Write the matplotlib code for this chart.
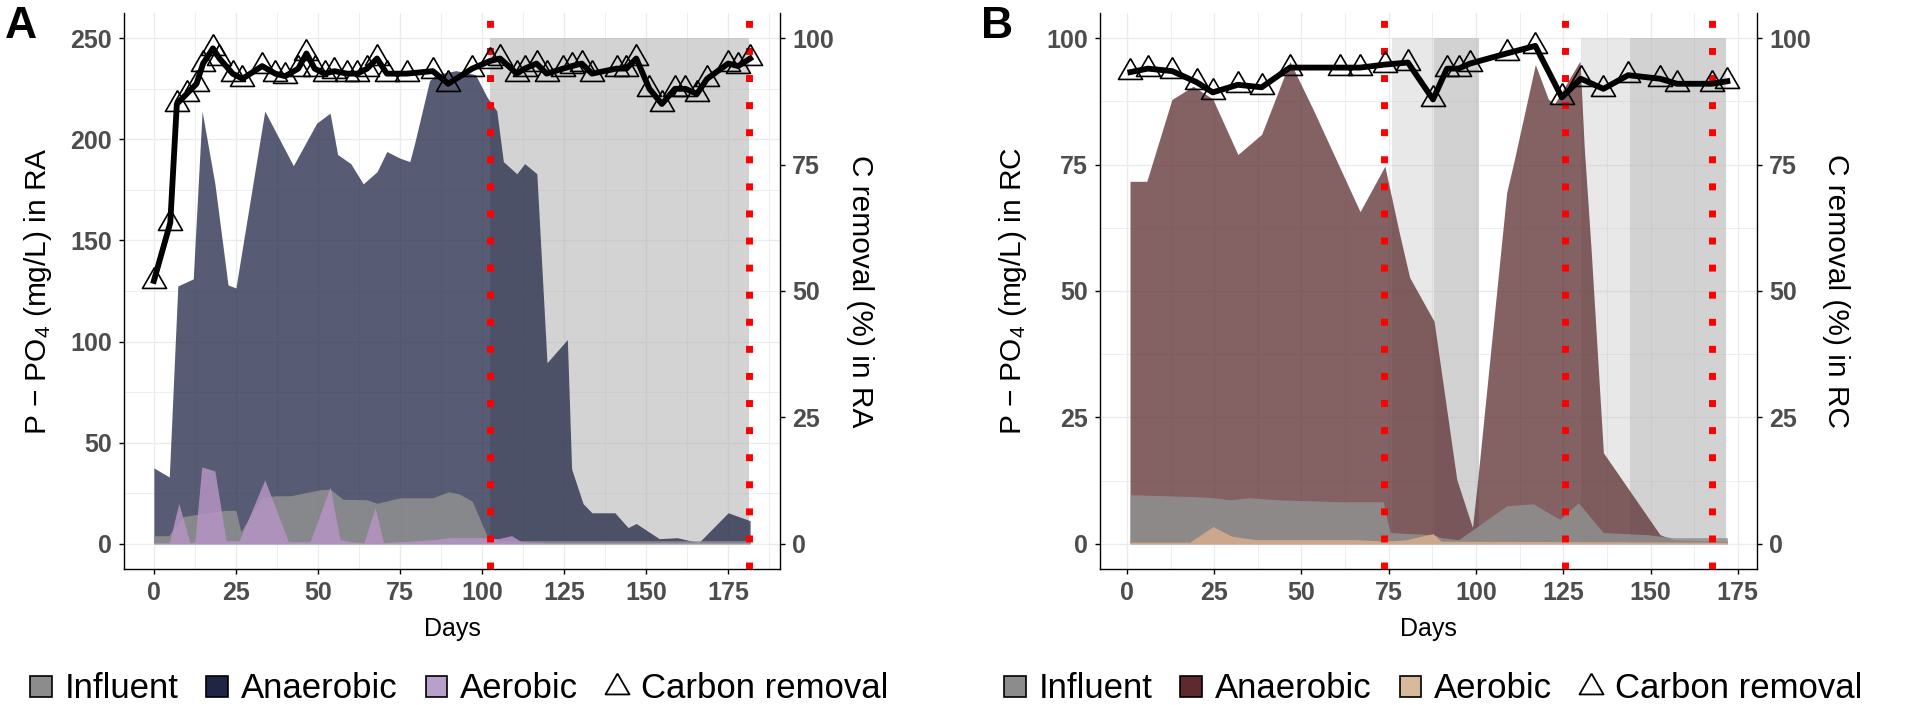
import matplotlib
matplotlib.use("Agg")
import matplotlib.pyplot as plt
from matplotlib.patches import Patch
from matplotlib.lines import Line2D
from matplotlib.ticker import MultipleLocator

plt.rcParams["font.family"] = ["Liberation Sans", "DejaVu Sans"]
plt.rcParams["mathtext.fontset"] = "custom"
plt.rcParams["mathtext.rm"] = "Liberation Sans"
plt.rcParams["mathtext.it"] = "Liberation Sans:italic"

# ---------------- panel A : reactor RA ----------------
a_anaer_day = [0, 4.7, 7.3, 12, 14.7, 18.6, 22.6, 25, 33.8, 42.5, 49.6, 53.7, 56, 60,
               63.8, 68, 71, 75, 78, 79.6, 84, 86, 92, 98, 101.5, 104.5, 106.5, 110.6,
               113, 116.7, 119.8, 126, 127.3, 130.8, 133.5, 140.5, 144.5, 147, 154,
               159.5, 166, 175, 181.7]
a_anaer = [37.5, 33, 127.5, 131, 214, 178, 128, 126.5, 214, 187, 208, 213, 192.5, 188,
           178, 184, 194, 190.7, 189, 199, 229, 232, 234, 232, 221, 214, 189, 183,
           188, 183, 89.5, 101, 37, 19.8, 15.3, 15.3, 8, 10, 2.5,
           3, 0.5, 15.3, 11.4]

a_infl_day = [0, 4.5, 9, 21.5, 25, 26.5, 33, 37, 41.5, 50.6, 53.7, 57.6, 65, 68, 75, 85,
              89.7, 93, 97, 101.5, 104, 181.7]
a_infl = [4, 4, 13.5, 16.5, 16.5, 6, 23, 23.7, 23.7, 26.7, 27, 22, 21.7, 20, 22.7, 22.7,
          25.7, 24.7, 21, 4, 1.5, 1.5]

a_aer_day = [0, 4.7, 7.6, 11, 12.5, 14.6, 18.6, 22, 26, 33.8, 41, 47.6, 53.7, 56.7, 60,
             64, 67.4, 70, 85, 90, 100, 105, 109, 112, 120, 181.7]
a_aer = [0.5, 0.5, 20, 0.5, 1, 38, 36, 1.5, 1.5, 31.6, 1, 1, 28, 2, 1,
         0.5, 17.8, 0.5, 2, 3, 3, 2.5, 4, 1, 0.5, 0.5]

a_c_day = [0, 5, 7, 10, 13, 15, 18, 20, 24, 27, 33, 37, 40, 44, 46.5, 49, 52, 55, 59,
           62, 65, 68, 71, 77, 85, 89.7, 97, 102.4, 105.5, 110.6, 113, 116.6, 119.7,
           124.7, 127.4, 130.4, 133.5, 141, 144, 147, 151, 154.8, 158.8, 162, 165.5,
           168.6, 175, 178, 181.7]
a_c = [52, 63.5, 87, 89, 91, 95, 98, 96, 93, 92, 94.5, 93, 92.5, 94, 97, 94, 93, 93.5, 93,
       93, 94, 96, 93, 93, 93.5, 91, 94, 95.5, 96, 93, 94, 95, 93,
       94, 94.5, 95, 93, 94, 94, 96, 90, 87, 90, 90, 89,
       92, 95, 94.5, 96]

a_spans = [(102.5, 181.4)]
a_vlines = [102.4, 181.4]

# ---------------- panel B : reactor RC ----------------
b_anaer_day = [0.9, 5.7, 12.9, 19, 24.6, 31.8, 38.6, 46.7, 53.3, 66.8, 73.9, 78, 81, 88,
               94.5, 99, 100.5, 108.8, 111, 117, 120.7, 122.5, 129.8, 131, 133, 136.5,
               152.7, 156.5, 172]
b_anaer = [71.7, 71.7, 87.9, 90.5, 88, 77, 81, 95.4, 86, 65.7, 74.7, 61.6, 52.7, 44,
           12.7, 3.2, 12.7, 69.5, 76, 94.8, 88, 87, 95.5, 78.6, 58, 18,
           1.8, 0.8, 0.5]

b_infl_day = [0.9, 20, 24.7, 29.5, 35, 43, 61, 73.4, 75.4, 87.7, 90, 95, 108.8, 116.4,
              124, 129.3, 136.5, 149, 156.5, 172]
b_infl = [9.7, 9.3, 9.1, 8.7, 9.1, 8.7, 8.3, 8.3, 2.2, 1.8, 1.2, 0.8, 7.5, 7.9,
          4.8, 8.1, 2.2, 1.8, 1.2, 1.2]

b_aer_day = [0.9, 18, 24.7, 30, 37, 66, 74, 80, 87.7, 90, 172]
b_aer = [0.3, 0.3, 3.4, 1.5, 0.8, 0.8, 0.5, 0.8, 2, 0.5, 0.3]

b_c_day = [1, 6, 13, 20, 24.6, 31.8, 38.6, 46.7, 61, 66.8, 74, 80.5, 87.7, 91.7, 95,
           98.3, 108.8, 117, 124.6, 130, 136.5, 143.6, 152.7, 157.6, 167.6, 172]
b_c = [93.3, 94, 93.5, 91.3, 89.3, 90.8, 90.3, 94.2, 94.2, 94.2, 94.8, 95.2, 87.9, 94, 94,
       95, 97, 98.5, 88.3, 92, 90, 92.7, 92, 91, 91, 91.5]

b_spans_light = [(76, 101), (130, 171.6)]
b_spans_dark = [(88, 101), (144, 171.6)]
b_vlines = [73.6, 125.5, 167.6]

tick_days = [0, 25, 50, 75, 100, 125, 150, 175]

TRI = [(0, 1), (-0.866, -0.5), (0.866, -0.5), (0, 1)]
TICK_COL = "#4d4d4d"


def style_axes(ax, ax2, xlim, ylim, ylim2, ymajor):
    ax.set_xlim(*xlim)
    ax.set_ylim(*ylim)
    ax2.set_ylim(*ylim2)
    ax.set_xticks(tick_days)
    ax.xaxis.set_minor_locator(MultipleLocator(12.5))
    ax.yaxis.set_major_locator(MultipleLocator(ymajor))
    ax.yaxis.set_minor_locator(MultipleLocator(ymajor / 2))
    ax2.set_yticks([0, 25, 50, 75, 100])
    ax.set_axisbelow(True)
    ax.grid(True, which="major", color="#ebebeb", lw=1.0)
    ax.grid(True, which="minor", color="#ebebeb", lw=0.6)
    for a in (ax, ax2):
        a.tick_params(which="major", length=3.6, width=1.0, color="black",
                      labelsize=18, labelcolor=TICK_COL, pad=5)
        a.tick_params(which="minor", length=0)
        for lab in a.get_xticklabels() + a.get_yticklabels():
            lab.set_fontweight("bold")
        for s in a.spines.values():
            s.set_linewidth(1.0)
            s.set_color("black")
    ax.spines["top"].set_visible(False)
    ax.spines["right"].set_visible(False)
    for s in ("top", "left", "bottom"):
        ax2.spines[s].set_visible(False)


def carbon(ax2, days, vals):
    ax2.plot(days, vals, ls="none", marker=TRI, ms=20, mfc="none", mec="black",
             mew=1.2, zorder=3)
    ax2.plot(days, vals, color="black", lw=4.2, solid_joinstyle="round", zorder=4)


def red_lines(ax, xs):
    for x in xs:
        ax.axvline(x, color="#ff0000", lw=5, ls=(0, (1, 2.9)),
                   dash_capstyle="butt", zorder=5)


fig = plt.figure(figsize=(19.05, 7.05), dpi=100)
W, H = 1905, 705

# ---- A ----
axA = fig.add_axes([124 / W, 1 - 569 / H, 656 / W, 556 / H])
axA2 = axA.twinx()
for x0, x1 in a_spans:
    axA.fill_between([x0, x1], 0, 250, color="#b0b0b0", alpha=0.55, lw=0, zorder=1)
axA.fill_between(a_anaer_day, 0, a_anaer, color="#1f2545", alpha=0.75, lw=0, zorder=2)
axA.fill_between(a_infl_day, 0, a_infl, color="#909090", alpha=0.85, lw=0, zorder=2)
axA.fill_between(a_aer_day, 0, a_aer, color="#b694c4", alpha=0.85, lw=0, zorder=2)
red_lines(axA, a_vlines)
carbon(axA2, a_c_day, a_c)
style_axes(axA, axA2, (-9.1, 190.8), (-12.5, 262.5), (-5, 105), 50)

# ---- B ----
axB = fig.add_axes([1100 / W, 1 - 569 / H, 657 / W, 556 / H])
axB2 = axB.twinx()
for x0, x1 in b_spans_light:
    axB.fill_between([x0, x1], 0, 100, color="#b3b3b3", alpha=0.3, lw=0, zorder=1)
for x0, x1 in b_spans_dark:
    axB.fill_between([x0, x1], 0, 100, color="#b3b3b3", alpha=0.4, lw=0, zorder=1)
axB.fill_between(b_anaer_day, 0, b_anaer, color="#5b2d30", alpha=0.75, lw=0, zorder=2)
axB.fill_between(b_infl_day, 0, b_infl, color="#909090", alpha=0.85, lw=0, zorder=2)
axB.fill_between(b_aer_day, 0, b_aer, color="#d8ad8c", alpha=0.85, lw=0, zorder=2)
red_lines(axB, b_vlines)
carbon(axB2, b_c_day, b_c)
style_axes(axB, axB2, (-7.7, 180.5), (-5, 105), (-5, 105), 25)

# ---- titles / labels ----
lab_kw = dict(ha="center", va="center", fontsize=21.5, color="black")
fig.text(38 / W, 1 - 291 / H, "P − PO$_4$ (mg/L) in RA", rotation=90, **lab_kw)
fig.text(860 / W, 1 - 291 / H, "C removal (%) in RA", rotation=270, **lab_kw)
fig.text(1013 / W, 1 - 291 / H, "P − PO$_4$ (mg/L) in RC", rotation=90, **lab_kw)
fig.text(1836 / W, 1 - 291 / H, "C removal (%) in RC", rotation=270, **lab_kw)
fig.text(452 / W, 1 - 636 / H, "Days", ha="center", va="baseline", fontsize=18)
fig.text(1428 / W, 1 - 636 / H, "Days", ha="center", va="baseline", fontsize=18)
fig.text(21 / W, 1 - 26 / H, "A", ha="center", va="center", fontsize=32, fontweight="bold")
fig.text(997 / W, 1 - 27 / H, "B", ha="center", va="center", fontsize=32, fontweight="bold")

# ---- legends ----
def legend(x_px, anaer_col, aer_col):
    handles = [
        Patch(facecolor="#8c8c8c", edgecolor="black", lw=1.2),
        Patch(facecolor=anaer_col, edgecolor="black", lw=1.2),
        Patch(facecolor=aer_col, edgecolor="black", lw=1.2),
        Line2D([], [], ls="none", marker=TRI, ms=20, mfc="none", mec="black", mew=1.3),
    ]
    labels = ["Influent", "Anaerobic", "Aerobic", "Carbon removal"]
    fig.legend(handles, labels, loc="center left", bbox_to_anchor=(x_px / W, 1 - 689 / H),
               ncol=4, frameon=False, fontsize=25, handlelength=0.63, handleheight=0.57,
               handletextpad=0.37, columnspacing=0.8, borderpad=0, borderaxespad=0)


legend(30, "#1f2545", "#b8a0cc")
legend(1004, "#5e2a2d", "#d9b99b")

fig.savefig("out.png", dpi=100)
